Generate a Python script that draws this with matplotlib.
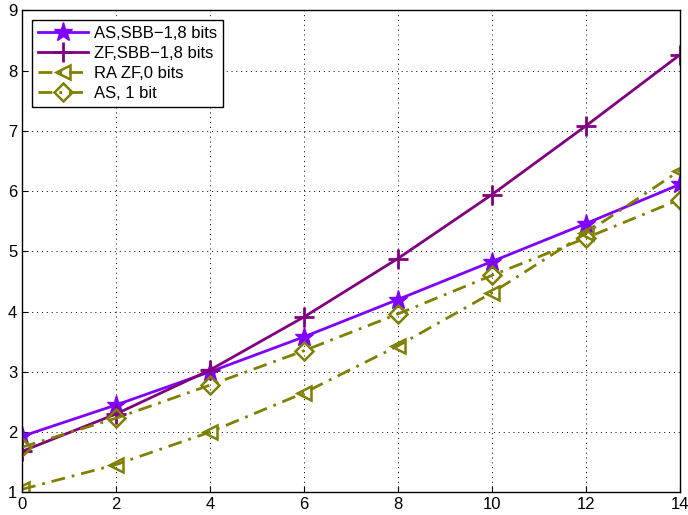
import matplotlib

matplotlib.use("Agg")
import matplotlib.pyplot as plt

x = [0, 2, 4, 6, 8, 10, 12, 14]
as_sbb = [1.93, 2.45, 3.0, 3.58, 4.2, 4.83, 5.46, 6.11]
zf_sbb = [1.68, 2.3, 3.03, 3.91, 4.88, 5.94, 7.08, 8.26]
ra_zf = [1.05, 1.46, 2.0, 2.65, 3.43, 4.31, 5.3, 6.34]
as_1bit = [1.75, 2.23, 2.78, 3.35, 3.96, 4.6, 5.22, 5.86]

labels = ["AS,SBB\u22121,8 bits", "ZF,SBB\u22121,8 bits", "RA ZF,0 bits", "AS, 1 bit"]


def main():
    plt.rcParams["font.family"] = ["Liberation Sans", "DejaVu Sans"]
    fig = plt.figure(figsize=(6.88, 5.15), dpi=100)
    ax = fig.add_axes([0.032, 0.044, 0.956, 0.936])

    ax.plot(x, as_sbb, color="#8000ff", lw=2, marker="*", ms=14, mfc="#8000ff",
            label=labels[0])
    ax.plot(x, zf_sbb, color="#800080", lw=2, marker="+", ms=14, mew=2,
            label=labels[1])
    ax.plot(x, ra_zf, color="#808000", lw=2, ls=(0, (5, 2.5, 1, 2.5)), marker="<",
            ms=10, mfc="none", mew=1.8, label=labels[2])
    ax.plot(x, as_1bit, color="#808000", lw=2, ls=(0, (5, 2.5, 1, 2.5)), marker="D",
            ms=9, mfc="none", mew=1.8, label=labels[3])

    ax.set_xlim(0, 14)
    ax.set_ylim(1, 9)
    ax.set_xticks(x)
    ax.set_yticks(range(1, 10))
    ax.tick_params(direction="in", labelsize=12, length=4)
    ax.grid(True, ls=(0, (1, 4)), color="black", lw=0.7)
    for s in ax.spines.values():
        s.set_linewidth(1.0)

    leg = ax.legend(loc="upper left", fontsize=12, fancybox=False,
                    edgecolor="black", framealpha=1, handlelength=3,
                    handletextpad=0.35, borderpad=0.35, labelspacing=0.3,
                    borderaxespad=0.6)
    leg.get_frame().set_linewidth(1.0)

    fig.savefig("out.png", dpi=100)


if __name__ == "__main__":
    main()
